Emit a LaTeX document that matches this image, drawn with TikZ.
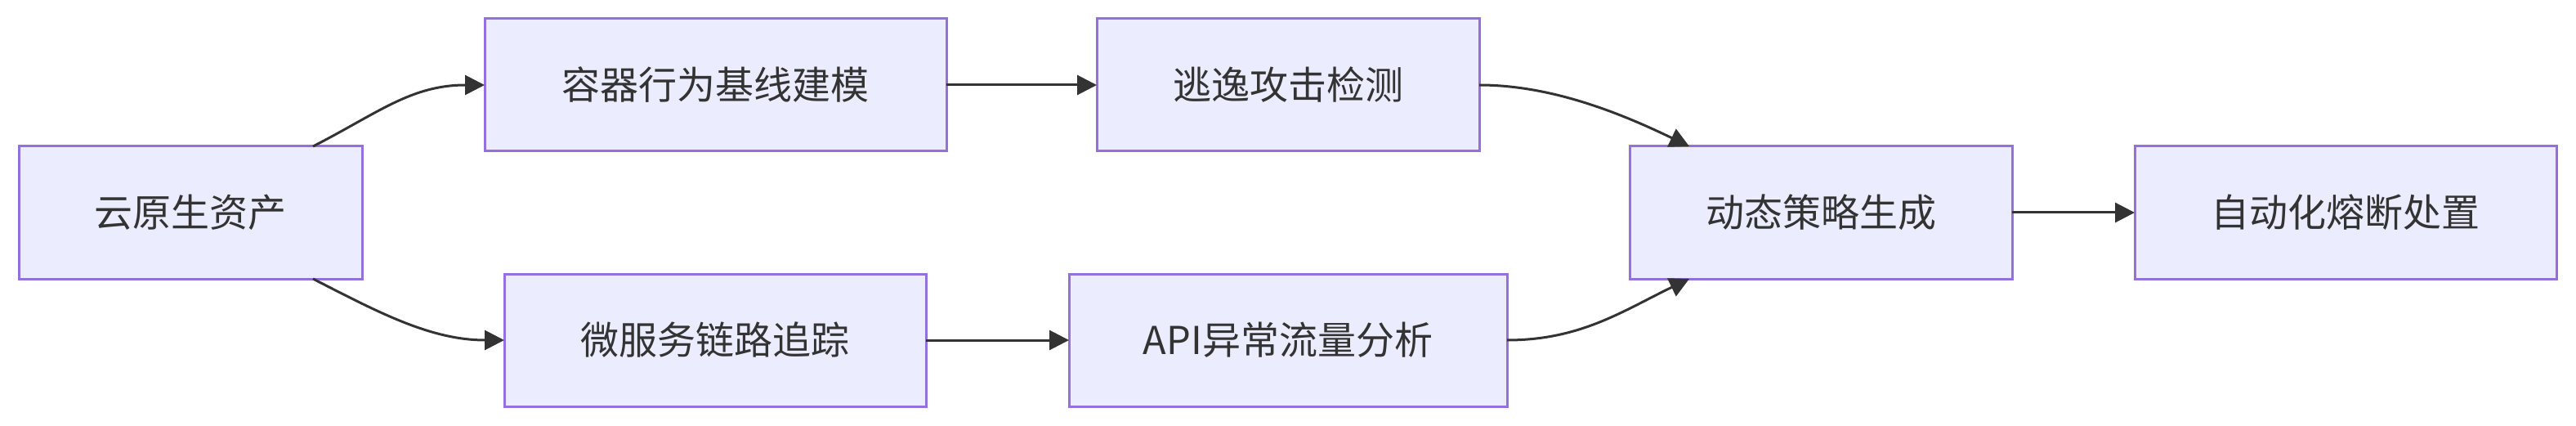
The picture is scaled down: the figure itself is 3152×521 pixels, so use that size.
\documentclass[tikz,border=0pt]{standalone}
\usepackage{fontspec}
\setmainfont{Noto Sans CJK SC}
\usetikzlibrary{arrows.meta}
\definecolor{boxfill}{HTML}{ECECFF}
\definecolor{boxdraw}{HTML}{9370DB}
\definecolor{inkgray}{HTML}{333333}
\tikzset{
  flowbox/.style={draw=boxdraw, fill=boxfill, line width=3pt, rectangle,
    minimum height=162pt, inner sep=0pt, outer sep=0pt, text=inkgray,
    font=\fontsize{47pt}{56pt}\selectfont},
  flowedge/.style={draw=inkgray, line width=3pt,
    -{Triangle[length=24pt,width=24pt]}},
}
\begin{document}
\begin{tikzpicture}[x=1pt,y=-1pt]
\useasboundingbox (0,0) rectangle (3152,521);
\node[flowbox, minimum width=420pt] (A) at (233,260) {云原生资产};
\node[flowbox, minimum width=565pt] (B) at (875.5,104) {容器行为基线建模};
\node[flowbox, minimum width=468pt] (C) at (1576,104) {逃逸攻击检测};
\node[flowbox, minimum width=516pt] (D) at (875,416) {微服务链路追踪};
\node[flowbox, minimum width=536pt] (E) at (1576,416) {API异常流量分析};
\node[flowbox, minimum width=468pt] (F) at (2228,260) {动态策略生成};
\node[flowbox, minimum width=516pt] (G) at (2870,260) {自动化熔断处置};
\draw[flowedge] ([xshift=360pt]A.north west) .. controls (463,138) and (503,104) .. (B.west);
\draw[flowedge] ([xshift=360pt]A.south west) .. controls (463,382) and (527,416) .. (D.west);
\draw[flowedge] (B.east) -- (C.west);
\draw[flowedge] (D.east) -- (E.west);
\draw[flowedge] (C.east) .. controls (1900,104) and (1986,140) .. ([xshift=73pt]F.north west);
\draw[flowedge] (E.east) .. controls (1934,416) and (1986,380) .. ([xshift=73pt]F.south west);
\draw[flowedge] (F.east) -- (G.west);
\end{tikzpicture}
\end{document}
